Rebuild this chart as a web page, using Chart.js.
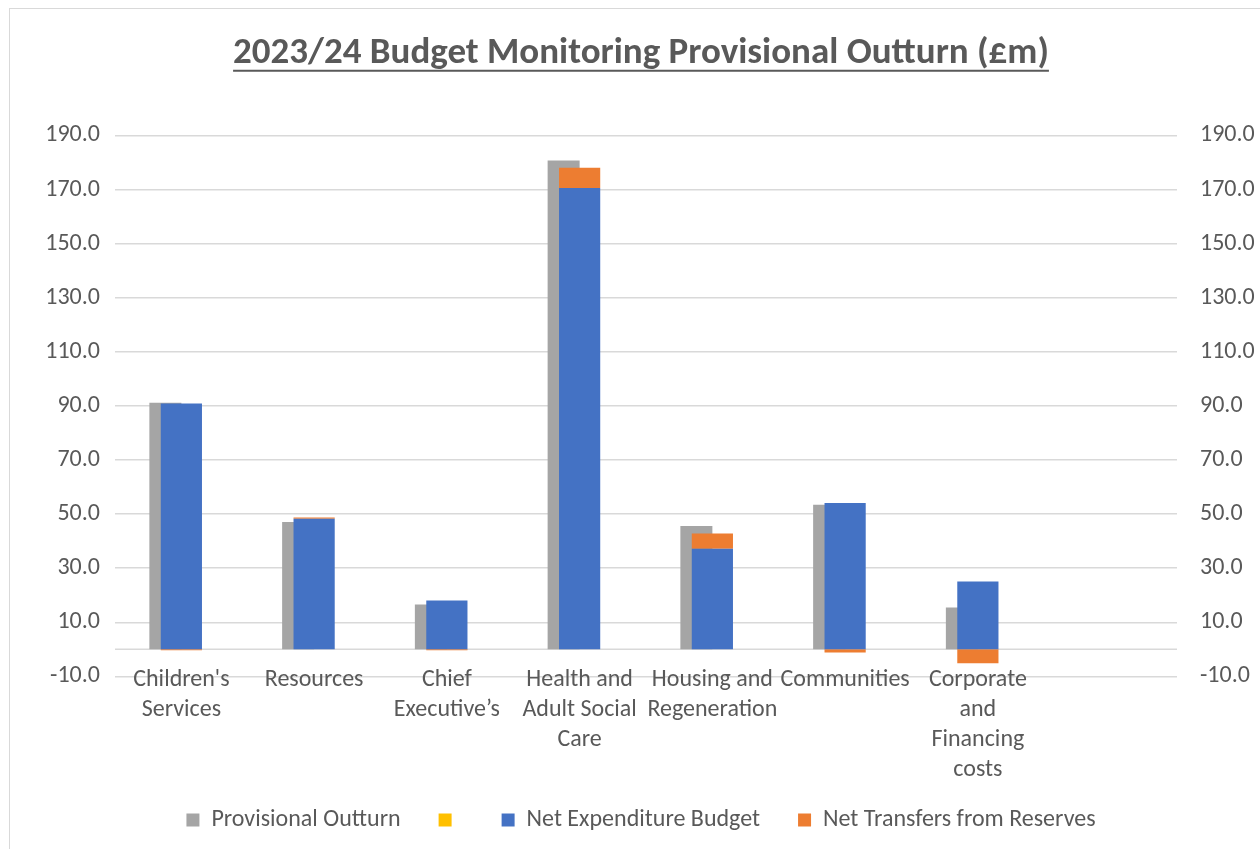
<!DOCTYPE html>
<html>
<head>
<meta charset="utf-8">
<script src="https://cdn.jsdelivr.net/npm/chart.js@4/dist/chart.umd.min.js"></script>
<style>
  html, body { margin: 0; padding: 0; background: #fff; overflow: hidden; }
  #frame { position: absolute; left: 9px; top: 8px; border: 1px solid #d9d9d9; }
  canvas { display: block; }
</style>
</head>
<body>
<div id="frame"><canvas id="budget-chart" width="1262" height="840"></canvas></div>
<script>
const CATEGORIES = [
    ["Children's", 'Services'],
    'Resources',
    ['Chief', 'Executive’s'],
    ['Health and', 'Adult Social', 'Care'],
    ['Housing and', 'Regeneration'],
    'Communities',
    ['Corporate', 'and', 'Financing', 'costs'],
    ''
];
const PROVISIONAL_OUTTURN = [91.2, 47.1, 16.6, 180.7, 45.6, 53.5, 15.5, null];
const BLANK_SERIES = [0, 0, 0, 0, 0, 0, 0, 0];
const NET_EXPENDITURE_BUDGET = [90.9, 48.3, 18.1, 170.6, 37.2, 54.1, 25.1, null];
const NET_TRANSFERS = [-0.3, 0.4, -0.3, 7.4, 5.6, -1.2, -5.1, null];

const TITLE = '2023/24 Budget Monitoring Provisional Outturn (£m)';
const FONT = 'Carlito, Calibri, Lato, sans-serif';
const TEXT = '#595959';
const GRID = '#d9d9d9';
const TITLE_SIZE = 37;
const TITLE_PAD_TOP = 23;

Chart.defaults.font.family = FONT;
Chart.defaults.color = TEXT;

// excel draws a line at zero as well as the gridlines
const zeroLine = {
    id: 'zeroLine',
    beforeDatasetsDraw(chart) {
        const {ctx, chartArea, scales} = chart;
        const py = scales.y.getPixelForValue(0);
        ctx.save();
        ctx.strokeStyle = GRID;
        ctx.lineWidth = 1.5;
        ctx.beginPath();
        ctx.moveTo(chartArea.left, py);
        ctx.lineTo(chartArea.right, py);
        ctx.stroke();
        ctx.restore();
    }
};

// grey series sits first in the stack order (left slot) but has to be painted under the blue one
const greyBehind = {
    id: 'greyBehind',
    beforeDatasetsDraw(chart) {
        chart.getDatasetMeta(0).controller.draw();
    },
    beforeDatasetDraw(chart, args) {
        if (args.index === 0) return false;
    }
};

const underlineTitle = {
    id: 'underlineTitle',
    afterDraw(chart) {
        const t = chart.titleBlock;
        if (!t) return;
        const ctx = chart.ctx;
        ctx.save();
        ctx.font = 'bold ' + TITLE_SIZE + 'px ' + FONT;
        const w = ctx.measureText(TITLE).width;
        const cx = (t.left + t.right) / 2;
        const cy = t.top + TITLE_PAD_TOP + TITLE_SIZE * 0.6 + TITLE_SIZE * 0.45;
        ctx.strokeStyle = TEXT;
        ctx.lineWidth = 2;
        ctx.beginPath();
        ctx.moveTo(cx - w / 2, cy);
        ctx.lineTo(cx + w / 2, cy);
        ctx.stroke();
        ctx.restore();
    }
};

function barDataset(label, data, color, stack, order, barPct) {
    return {
        label: label,
        data: data,
        backgroundColor: color,
        borderWidth: 0,
        stack: stack,
        order: order,
        categoryPercentage: 0.3616,
        barPercentage: barPct
    };
}

function valueAxis(position, width, pad) {
    return {
        position: position,
        stacked: true,
        min: -10,
        max: 190,
        ticks: {
            stepSize: 20,
            padding: pad,
            font: {size: 24},
            callback: v => Number(v).toFixed(1)
        },
        grid: {
            display: position === 'left',
            color: GRID,
            lineWidth: 1.5,
            drawTicks: false
        },
        border: {display: false},
        afterFit: s => { s.width = width; }
    };
}

new Chart(document.getElementById('budget-chart'), {
    type: 'bar',
    data: {
        labels: CATEGORIES,
        datasets: [
            barDataset('Provisional Outturn', PROVISIONAL_OUTTURN, '#a5a5a5', 'g', 0, 2.0),
            barDataset('', BLANK_SERIES, '#ffc000', 'blank', 3, 1.0),
            barDataset('Net Expenditure Budget', NET_EXPENDITURE_BUDGET, '#4472c4', 'b', 1, 2.575),
            barDataset('Net Transfers from Reserves', NET_TRANSFERS, '#ed7d31', 'b', 2, 2.575)
        ]
    },
    options: {
        responsive: false,
        animation: false,
        layout: {padding: {left: 0, right: 0, top: 0, bottom: 7}},
        scales: {
            // category axis crosses at zero like the excel original
            x: {
                position: {y: 0},
                stacked: true,
                offset: true,
                grid: {display: false, drawTicks: false},
                border: {display: false},
                ticks: {
                    autoSkip: false,
                    maxRotation: 0,
                    padding: 16,
                    font: {size: 24, lineHeight: 1.24}
                }
            },
            // only holds the room under the plot for the wrapped labels
            xSpace: {
                type: 'category',
                position: 'bottom',
                offset: true,
                grid: {display: false, drawTicks: false},
                border: {display: false},
                ticks: {display: false},
                afterFit: s => { s.height = 93.6; }
            },
            y: valueAxis('left', 105, 15),
            y2: valueAxis('right', 95, 23)
        },
        plugins: {
            title: {
                display: true,
                text: TITLE,
                color: TEXT,
                font: {size: TITLE_SIZE, weight: 'bold', lineHeight: 1.2},
                padding: {top: TITLE_PAD_TOP, bottom: 59}
            },
            legend: {
                position: 'bottom',
                labels: {
                    boxWidth: 13,
                    boxHeight: 13,
                    padding: 38,
                    font: {size: 24},
                    sort: (a, b) => a.datasetIndex - b.datasetIndex
                }
            },
            tooltip: {enabled: false}
        }
    },
    plugins: [zeroLine, greyBehind, underlineTitle]
});
</script>
</body>
</html>
